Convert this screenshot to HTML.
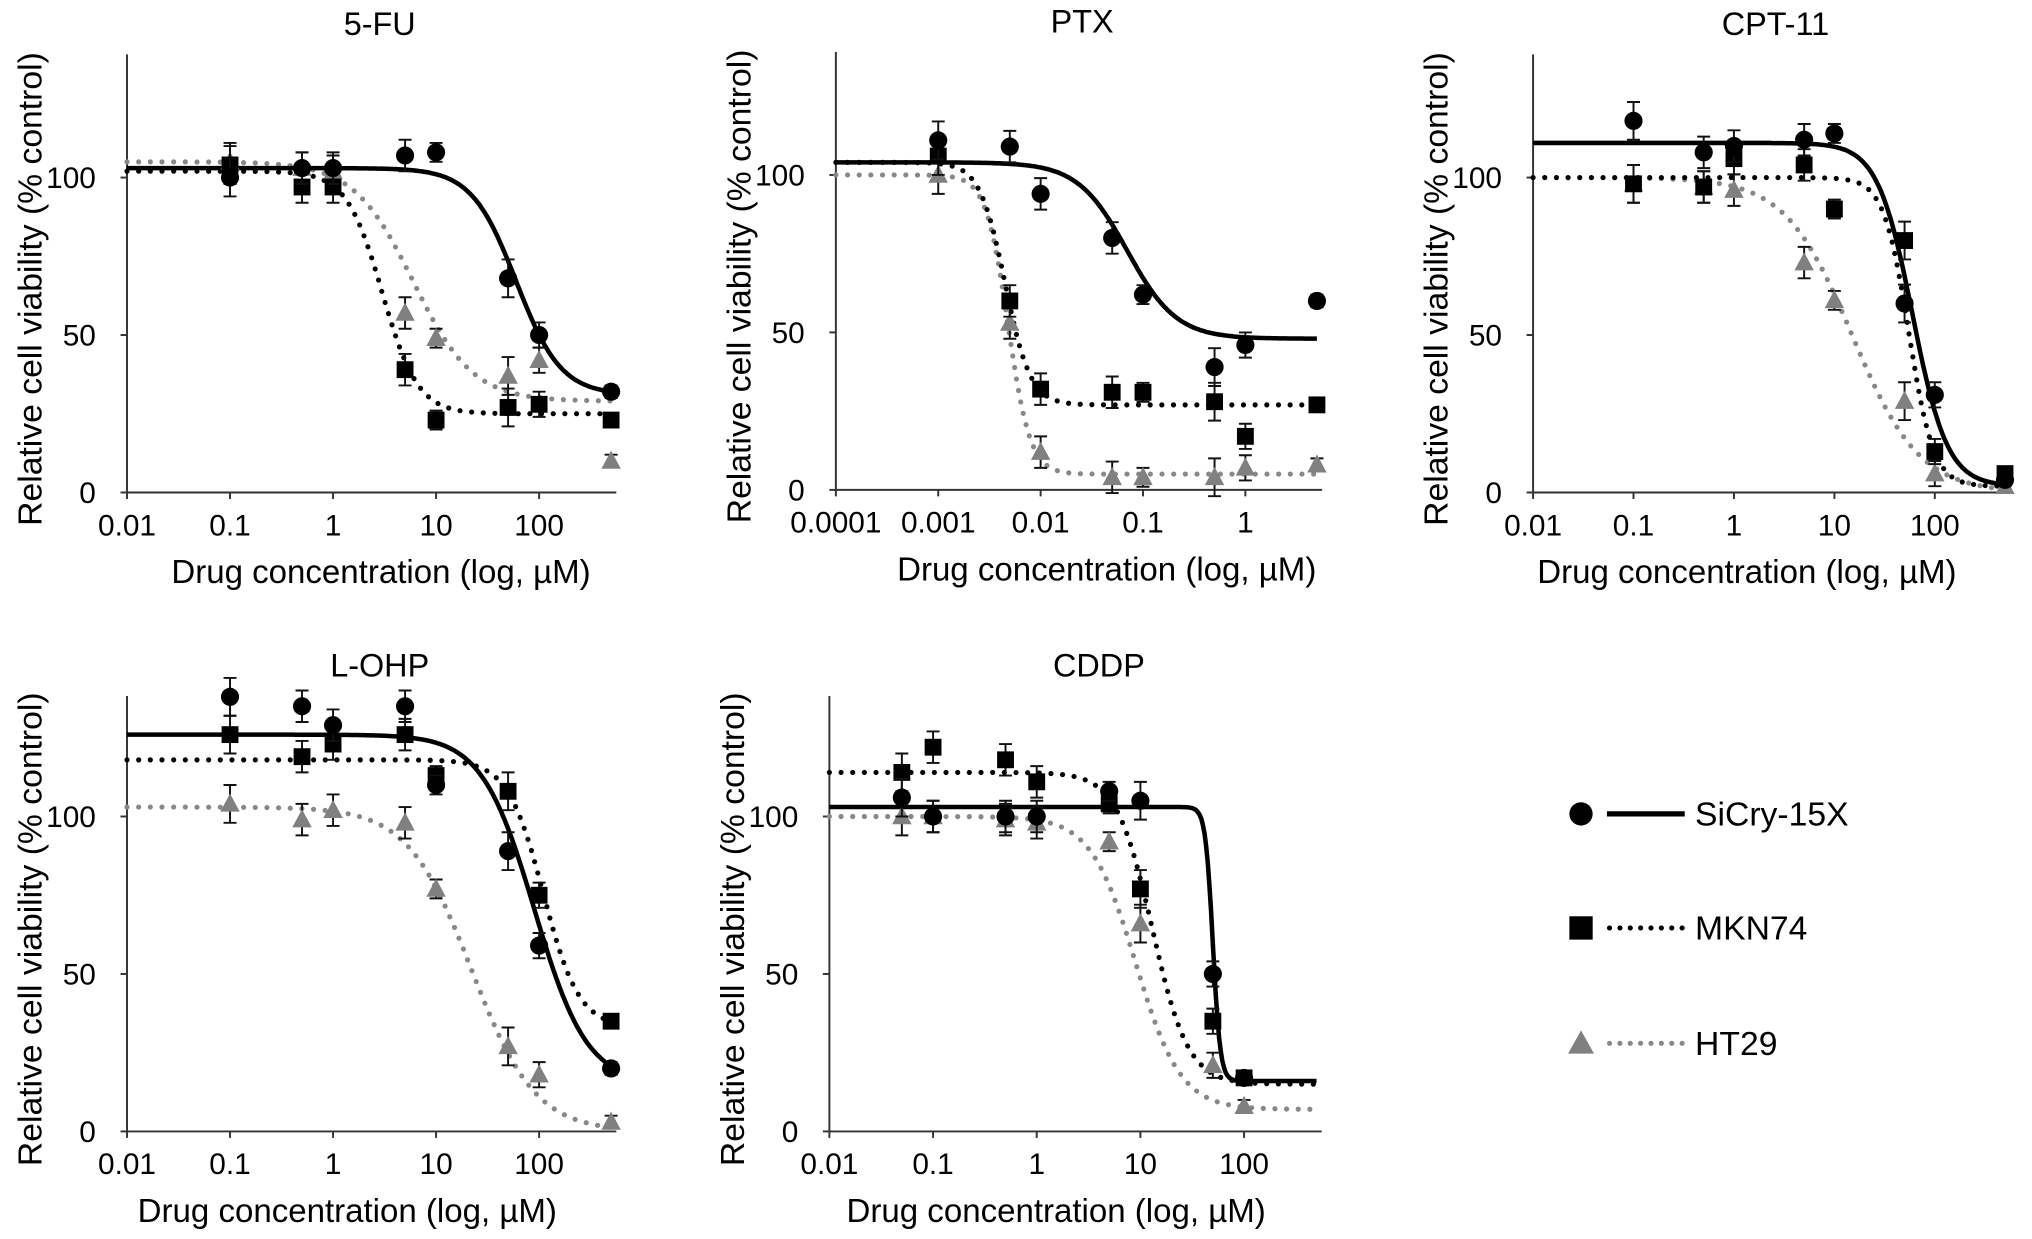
<!DOCTYPE html>
<html><head><meta charset="utf-8"><style>
html,body{margin:0;padding:0;background:#fff}
svg{display:block;font-family:"Liberation Sans",Arial,sans-serif}
</style></head><body>
<svg id="fig" width="2032" height="1239" viewBox="0 0 1568 956" preserveAspectRatio="none" xmlns="http://www.w3.org/2000/svg">
<g>
 <g>
  <circle cx="1220" cy="628" r="9" fill="#000"/>
  <line x1="1240" y1="628" x2="1300" y2="628" stroke="#000" stroke-width="4"/>
  <text x="1308" y="637" font-size="26">SiCry-15X</text>
 </g>
 <g>
  <rect x="1211" y="707" width="18" height="18" fill="#000"/>
  <line x1="1242" y1="716" x2="1300" y2="716" stroke="#000" stroke-width="4" stroke-dasharray="0 8" stroke-linecap="round"/>
  <text x="1308" y="725" font-size="26">MKN74</text>
 </g>
 <g>
  <polygon points="1220,795 1230,813 1210,813" fill="#808080"/>
  <line x1="1242" y1="805" x2="1300" y2="805" stroke="#888" stroke-width="4" stroke-dasharray="0 8" stroke-linecap="round"/>
  <text x="1308" y="814" font-size="26">HT29</text>
 </g>
</g>
</svg>
<script>
// ---- data ----
const titles = ["5-FU","PTX","CPT-11","L-OHP","CDDP"];
const concFU = [0.1,0.5,1,5,10,50,100,500];
const concPTX = [0.001,0.005,0.01,0.05,0.1,0.5,1,5];
const concCPT = [0.1,0.5,1,5,10,50,100,500];
const concOHP = [0.1,0.5,1,5,10,50,100,500];
const concCDDP = [0.05,0.1,0.5,1,5,10,50,100];
const fuSiCry = [100,103,103,107,108,68,50,32];
const fuMKN = [104,97,97,39,23,27,28,23];
const fuHT = [105,103,102,57,49,37,42,10];
const ptxSiCry = [111,109,94,80,62,39,46,60];
const ptxMKN = [106,60,32,31,31,28,17,27];
const ptxHT = [100,53,12,4,4,4,7,8];
const cptSiCry = [118,108,110,112,114,60,31,4];
const cptMKN = [98,97,106,104,90,80,13,6];
const cptHT = [98,97,96,73,61,29,6,2];
const ohpSiCry = [138,135,129,135,110,89,59,20];
const ohpMKN = [126,119,123,126,113,108,75,35];
const ohpHT = [104,99,102,98,77,27,18,3];
const cddpSiCry = [106,100,100,100,108,105,50,17];
const cddpMKN = [114,122,118,111,104,77,35,17];
const cddpHT = [100,100,99,98,92,66,21,8];
const errSmall = [6,5,5,5,3,6,4,2];
// fit params: top, bottom, ec50, hill
const fitFU = [[103,31,60,2],[102,25,3,2.5],[105,29,6,1.5]];
const fitPTX = [[104,48,0.07,1.8],[104,27,0.0045,3.5],[100,5,0.0048,4]];
const fitCPT = [[111,2,60,2.5],[100,2,55,3.5],[100,0,15,1.3]];
const fitOHP = [[126,15,90,1.7],[118,33,110,2.5],[103,0,22,1.4]];
const fitCDDP = [[103,16,50,12],[114,15,13,2.5],[100,7,9,2]];
const ticksA = ["0.01","0.1","1","10","100"];
const ticksP = ["0.0001","0.001","0.01","0.1","1"];
const yTicks = [0,50,100];

// ---- layout ----
const panels = [
 {t:0,x0:98,top:42,y0:380,y100:137,lmin:-2,dec:79.5,xmax:500,conc:concFU,ser:[fuSiCry,fuMKN,fuHT],fit:fitFU,ticks:ticksA,tc:293,xl:294},
 {t:1,x0:645,top:40,y0:378,y100:135,lmin:-4,dec:79,xmax:5,conc:concPTX,ser:[ptxSiCry,ptxMKN,ptxHT],fit:fitPTX,ticks:ticksP,tc:835,xl:854},
 {t:2,x0:1183,top:42,y0:380,y100:137,lmin:-2,dec:77.5,xmax:500,conc:concCPT,ser:[cptSiCry,cptMKN,cptHT],fit:fitCPT,ticks:ticksA,tc:1370,xl:1348},
 {t:3,x0:98,top:537,y0:873,y100:630,lmin:-2,dec:79.5,xmax:500,conc:concOHP,ser:[ohpSiCry,ohpMKN,ohpHT],fit:fitOHP,ticks:ticksA,tc:293,xl:268},
 {t:4,x0:640,top:537,y0:873,y100:630,lmin:-2,dec:80,xmax:500,conc:concCDDP,ser:[cddpSiCry,cddpMKN,cddpHT],fit:fitCDDP,ticks:ticksA,tc:848,xl:815}
];
const NS="http://www.w3.org/2000/svg";
const svg=document.getElementById('fig');
function mk(tag,attrs,parent){const e=document.createElementNS(NS,tag);for(const k in attrs)e.setAttribute(k,attrs[k]);parent.appendChild(e);return e;}
const names=["sicry","mkn74","ht29"];
const colors=["#000","#000","#808080"];
panels.forEach(p=>{
 const g=mk('g',{},svg);
 
 
 const X=c=>p.x0+(Math.log10(c)-p.lmin)*p.dec;
 const Y=v=>p.y0-(v/100)*(p.y0-p.y100);
 const xEnd=X(p.xmax)+4;
 const tt=mk('text',{x:p.tc,y:p.top-15,'font-size':25,'text-anchor':'middle'},g);tt.textContent=titles[p.t];
 
 
 const ax=mk('path',{d:`M${p.x0} ${p.top}V${p.y0}H${xEnd}`,fill:'none',stroke:'#333','stroke-width':1.5},g);
 
 
 yTicks.forEach(v=>{const y=Y(v);mk('line',{x1:p.x0-5,y1:y,x2:p.x0,y2:y,stroke:'#333','stroke-width':1.5},g);
  const t=mk('text',{x:p.x0-24,y:y+8,'font-size':23,'text-anchor':'end'},g);t.textContent=v;
  
  });
 p.ticks.forEach((lab,i)=>{const x=X(parseFloat(lab));mk('line',{x1:x,y1:p.y0,x2:x,y2:p.y0+5,stroke:'#333','stroke-width':1.5},g);
  const t=mk('text',{x:x,y:p.y0+33,'font-size':23,'text-anchor':'middle'},g);t.textContent=lab;
  
  });
 const yl=mk('text',{transform:`translate(${p.x0-66},${(p.top+p.y0)/2+12}) rotate(-90)`,'font-size':26,'text-anchor':'middle'},g);
 yl.textContent='Relative cell viability (% control)';
 
 
 const xl=mk('text',{x:p.xl,y:p.y0+70,'font-size':25.5,'text-anchor':'middle'},g);
 xl.textContent='Drug concentration (log, \u00b5M)';
 
 
 [2,1,0].forEach(s=>{
  const [top,bot,ec,h]=p.fit[s];
  let d='';const lmax=Math.log10(p.xmax);
  for(let i=0;i<=300;i++){const l=p.lmin+(lmax-p.lmin)*i/300;const c=Math.pow(10,l);
   const v=bot+(top-bot)/(1+Math.pow(c/ec,h));d+=(i?'L':'M')+X(c).toFixed(1)+' '+Y(v).toFixed(1);}
  const attrs={d:d,fill:'none',stroke:s==2?'#888':'#000','stroke-width':s==0?3.5:4};
  if(s>0){attrs['stroke-dasharray']='0 9';attrs['stroke-linecap']='round';}
  const c=mk('path',attrs,g);
  
  
 });
 [2,1,0].forEach(s=>{
  p.ser[s].forEach((v,i)=>{
   const x=X(p.conc[i]),y=Y(v);const e=errSmall[i];
   const eb=mk('path',{d:`M${x} ${Y(v-e)}V${Y(v+e)}M${x-5} ${Y(v-e)}H${x+5}M${x-5} ${Y(v+e)}H${x+5}`,stroke:'#111','stroke-width':1.5,fill:'none'},g);
   
   
   let m;
   if(s==0)m=mk('circle',{cx:x,cy:y,r:7,fill:'#000'},g);
   else if(s==1)m=mk('rect',{x:x-6.5,y:y-6.5,width:13,height:13,fill:'#000'},g);
   else m=mk('polygon',{points:`${x},${y-8} ${x+7.5},${y+6} ${x-7.5},${y+6}`,fill:colors[s]},g);
   
   
  });
 });
});
</script>
</body></html>
